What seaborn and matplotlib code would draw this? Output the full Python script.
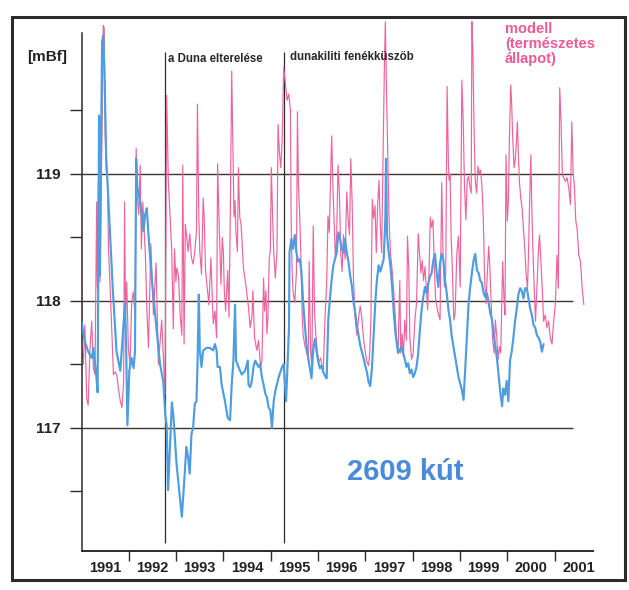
import matplotlib
matplotlib.use("Agg")
import matplotlib.pyplot as plt
import numpy as np
import pandas as pd
import seaborn as sns
from matplotlib.patches import Rectangle

# ---------------- data (decimal year, level in mBf) ----------------
blue_1991_1993 = [
    (1991.00, 117.84), (1991.07, 117.68), (1991.14, 117.60), (1991.22, 117.55), (1991.25, 117.63),
    (1991.31, 117.42), (1991.34, 117.28), (1991.36, 118.57), (1991.37, 119.46), (1991.39, 118.20),
    (1991.41, 119.12), (1991.435, 120.04), (1991.46, 120.09), (1991.49, 119.73), (1991.52, 119.15),
    (1991.58, 118.70), (1991.66, 118.10), (1991.74, 117.60), (1991.82, 117.45), (1991.92, 117.99),
    (1991.945, 117.60), (1991.97, 117.02), (1992.01, 117.45), (1992.06, 117.55), (1992.10, 117.47),
    (1992.13, 117.60), (1992.155, 119.12), (1992.18, 118.90), (1992.24, 118.78), (1992.31, 118.55),
    (1992.345, 118.68), (1992.38, 118.73), (1992.415, 118.52), (1992.49, 118.15), (1992.59, 117.76),
    (1992.66, 117.50), (1992.73, 117.36), (1992.77, 117.10), (1992.80, 117.02), (1992.83, 116.51),
    (1992.87, 116.85), (1992.91, 117.20), (1992.94, 117.10), (1993.01, 116.71), (1993.08, 116.45),
    (1993.12, 116.30),
]
blue_1993_1995 = [
    (1993.167, 116.56), (1993.216, 116.85), (1993.252, 116.77), (1993.287, 116.64), (1993.323, 116.95),
    (1993.358, 117.00), (1993.394, 117.19), (1993.429, 117.21), (1993.45, 117.48), (1993.479, 118.05),
    (1993.50, 117.61), (1993.536, 117.48), (1993.571, 117.61), (1993.642, 117.63), (1993.713, 117.63),
    (1993.784, 117.61), (1993.819, 117.66), (1993.855, 117.61), (1993.876, 117.48), (1993.926, 117.48),
    (1993.961, 117.34), (1994.032, 117.21), (1994.089, 117.08), (1994.139, 117.06), (1994.174, 117.34),
    (1994.21, 117.53), (1994.245, 117.97), (1994.266, 117.53), (1994.316, 117.48), (1994.387, 117.42),
    (1994.458, 117.45), (1994.514, 117.53), (1994.529, 117.34), (1994.564, 117.32), (1994.60, 117.37),
    (1994.635, 117.48), (1994.67, 117.53), (1994.741, 117.48), (1994.777, 117.50), (1994.812, 117.40),
    (1994.848, 117.34), (1994.883, 117.27), (1994.919, 117.24), (1994.954, 117.16), (1994.99, 117.14),
    (1995.025, 117.00), (1995.061, 117.21), (1995.096, 117.29), (1995.167, 117.40), (1995.238, 117.48),
    (1995.273, 117.50), (1995.309, 117.29), (1995.323, 117.21), (1995.366, 117.61), (1995.385, 117.79),
]
blue_1995_1997 = [
    (1995.395, 118.38), (1995.435, 118.49), (1995.471, 118.41), (1995.507, 118.52), (1995.542, 118.38),
    (1995.577, 118.31), (1995.613, 118.33), (1995.648, 118.23), (1995.684, 117.99), (1995.719, 117.81),
    (1995.755, 117.65), (1995.79, 117.55), (1995.825, 117.47), (1995.861, 117.39), (1995.897, 117.62),
    (1995.932, 117.70), (1995.968, 117.60), (1996.003, 117.52), (1996.038, 117.47), (1996.074, 117.49),
    (1996.109, 117.44), (1996.145, 117.41), (1996.18, 117.39), (1996.216, 117.86), (1996.251, 118.02),
    (1996.287, 118.17), (1996.322, 118.28), (1996.358, 118.33), (1996.393, 118.38), (1996.429, 118.54),
    (1996.464, 118.49), (1996.499, 118.41), (1996.535, 118.38), (1996.57, 118.49), (1996.606, 118.38),
    (1996.641, 118.31), (1996.677, 118.20), (1996.712, 118.12), (1996.748, 117.99), (1996.783, 117.91),
    (1996.819, 117.81), (1996.854, 117.73), (1996.89, 117.65), (1996.925, 117.60), (1996.96, 117.55),
    (1996.996, 117.49), (1997.031, 117.44), (1997.067, 117.36), (1997.102, 117.33), (1997.138, 117.47),
    (1997.173, 117.73), (1997.209, 117.99), (1997.244, 118.17), (1997.28, 118.28), (1997.315, 118.23),
    (1997.351, 118.28), (1997.386, 118.33), (1997.421, 118.65), (1997.435, 119.12), (1997.457, 118.52),
    (1997.492, 118.38), (1997.528, 118.28), (1997.563, 118.12), (1997.599, 117.91), (1997.634, 117.75),
]
blue_1997_1999 = [
    (1997.655, 117.69), (1997.69, 117.59), (1997.726, 117.61), (1997.761, 117.64), (1997.797, 117.59),
    (1997.832, 117.54), (1997.867, 117.48), (1997.903, 117.51), (1997.938, 117.43), (1997.974, 117.46),
    (1998.009, 117.40), (1998.045, 117.43), (1998.08, 117.48), (1998.116, 117.59), (1998.151, 117.77),
    (1998.187, 117.93), (1998.222, 118.03), (1998.258, 118.11), (1998.293, 118.06), (1998.328, 118.14),
    (1998.364, 118.19), (1998.399, 118.22), (1998.435, 118.32), (1998.47, 118.37), (1998.506, 118.22),
    (1998.541, 118.11), (1998.577, 118.30), (1998.612, 118.37), (1998.648, 118.32), (1998.683, 118.16),
    (1998.719, 118.06), (1998.754, 117.93), (1998.789, 117.85), (1998.825, 117.72), (1998.86, 117.64),
    (1998.896, 117.56), (1998.931, 117.48), (1998.967, 117.40), (1999.002, 117.35), (1999.038, 117.30),
    (1999.073, 117.22), (1999.109, 117.46), (1999.144, 117.72), (1999.18, 117.98), (1999.215, 118.11),
    (1999.25, 118.22), (1999.286, 118.32), (1999.321, 118.37), (1999.357, 118.24), (1999.392, 118.22),
    (1999.428, 118.16), (1999.463, 118.14), (1999.499, 118.06), (1999.534, 118.03), (1999.57, 118.06),
    (1999.605, 117.98), (1999.641, 117.90), (1999.676, 117.85), (1999.711, 117.74), (1999.747, 117.64),
    (1999.782, 117.54), (1999.818, 117.40), (1999.853, 117.27), (1999.889, 117.17),
]
blue_2000 = [
    (1999.914, 117.31), (1999.95, 117.26), (1999.985, 117.37), (2000.021, 117.21), (2000.056, 117.53),
    (2000.091, 117.60), (2000.127, 117.71), (2000.162, 117.84), (2000.198, 117.94), (2000.233, 118.05),
    (2000.269, 118.10), (2000.304, 118.08), (2000.34, 118.02), (2000.375, 118.10), (2000.411, 118.10),
    (2000.446, 118.02), (2000.482, 117.94), (2000.517, 117.89), (2000.552, 117.81), (2000.588, 117.79),
    (2000.623, 117.73), (2000.659, 117.71), (2000.694, 117.68), (2000.73, 117.60), (2000.765, 117.66),
]

pink_1991_1993 = [
    (1991.00, 118.49), (1991.01, 117.63), (1991.04, 117.50), (1991.07, 117.81), (1991.11, 117.23),
    (1991.14, 117.18), (1991.18, 117.63), (1991.215, 117.84), (1991.25, 117.47), (1991.285, 117.42),
    (1991.32, 118.78), (1991.335, 118.10), (1991.355, 118.94), (1991.39, 118.15), (1991.43, 119.26),
    (1991.46, 120.17), (1991.48, 120.15), (1991.50, 119.33), (1991.52, 119.04), (1991.55, 118.94),
    (1991.57, 118.41), (1991.605, 118.10), (1991.64, 117.76), (1991.675, 117.42), (1991.71, 117.44),
    (1991.745, 117.42), (1991.78, 117.31), (1991.82, 117.21), (1991.855, 117.16), (1991.89, 117.36),
    (1991.91, 118.78), (1991.93, 117.89), (1991.955, 118.15), (1991.99, 117.63), (1992.025, 117.50),
    (1992.06, 117.99), (1992.095, 118.07), (1992.13, 117.89), (1992.155, 119.20), (1992.18, 118.81),
    (1992.21, 118.68), (1992.24, 119.07), (1992.265, 118.41), (1992.295, 118.78), (1992.325, 118.55),
    (1992.35, 118.36), (1992.38, 117.94), (1992.415, 117.63), (1992.465, 118.45), (1992.52, 117.89),
    (1992.575, 118.30), (1992.625, 117.50), (1992.695, 117.85), (1992.765, 117.26), (1992.80, 119.62),
    (1992.835, 118.94), (1992.87, 118.68), (1992.905, 118.41), (1992.94, 117.78), (1992.965, 118.41),
    (1992.995, 118.15), (1993.015, 118.26), (1993.05, 118.20), (1993.085, 117.89), (1993.12, 117.73),
    (1993.14, 119.07),
]
pink_1993_1995 = [
    (1993.167, 117.66), (1993.195, 118.60), (1993.216, 118.53), (1993.252, 118.39), (1993.287, 118.53),
    (1993.323, 118.34), (1993.358, 118.29), (1993.394, 118.39), (1993.429, 118.55), (1993.45, 119.55),
    (1993.479, 118.66), (1993.50, 118.39), (1993.536, 118.21), (1993.571, 118.81), (1993.592, 118.66),
    (1993.621, 118.24), (1993.663, 118.08), (1993.692, 117.97), (1993.734, 118.34), (1993.763, 118.03),
    (1993.784, 117.82), (1993.819, 117.92), (1993.855, 117.71), (1993.876, 119.08), (1993.905, 118.66),
    (1993.947, 118.13), (1993.975, 118.50), (1993.997, 118.39), (1994.018, 118.08), (1994.046, 117.92),
    (1994.089, 118.24), (1994.117, 117.87), (1994.145, 118.71), (1994.174, 119.81), (1994.195, 119.31),
    (1994.223, 118.66), (1994.245, 118.79), (1994.266, 118.53), (1994.295, 118.39), (1994.316, 119.05),
    (1994.344, 118.66), (1994.373, 118.60), (1994.422, 118.26), (1994.472, 118.13), (1994.529, 117.95),
    (1994.564, 117.79), (1994.60, 117.87), (1994.621, 118.08), (1994.656, 117.71), (1994.706, 117.61),
    (1994.741, 117.69), (1994.784, 117.48), (1994.812, 117.53), (1994.848, 118.18), (1994.869, 117.92),
    (1994.897, 118.08), (1994.919, 117.74), (1994.94, 117.87), (1994.968, 118.34), (1994.99, 118.39),
    (1995.011, 119.05), (1995.039, 118.66), (1995.061, 118.39), (1995.096, 118.18), (1995.131, 118.39),
    (1995.153, 119.39), (1995.181, 119.18), (1995.21, 119.05), (1995.238, 119.24), (1995.273, 119.84),
    (1995.309, 119.71), (1995.344, 119.58), (1995.38, 119.63), (1995.415, 119.50),
]
pink_1995_1997 = [
    (1995.43, 118.65), (1995.45, 118.25), (1995.471, 118.07), (1995.507, 117.99), (1995.542, 118.23),
    (1995.563, 119.49), (1995.585, 118.91), (1995.613, 118.65), (1995.634, 118.38), (1995.662, 117.91),
    (1995.684, 117.73), (1995.719, 117.65), (1995.755, 117.60), (1995.79, 117.55), (1995.812, 118.31),
    (1995.84, 117.60), (1995.868, 117.49), (1995.897, 118.59), (1995.925, 117.91), (1995.953, 117.73),
    (1995.982, 117.60), (1996.017, 117.52), (1996.053, 117.55), (1996.081, 117.49), (1996.109, 117.44),
    (1996.145, 117.86), (1996.18, 118.12), (1996.209, 118.67), (1996.237, 118.54), (1996.265, 118.99),
    (1996.287, 119.30), (1996.308, 118.96), (1996.336, 118.65), (1996.365, 118.33), (1996.393, 118.52),
    (1996.421, 119.07), (1996.45, 118.86), (1996.478, 118.38), (1996.507, 118.23), (1996.535, 118.52),
    (1996.57, 118.33), (1996.606, 118.86), (1996.634, 118.65), (1996.663, 118.52), (1996.691, 119.12),
    (1996.719, 118.78), (1996.748, 118.17), (1996.783, 117.86), (1996.819, 117.73), (1996.854, 117.86),
    (1996.89, 117.96), (1996.925, 117.86), (1996.96, 117.70), (1996.996, 117.60), (1997.031, 117.52),
    (1997.067, 117.49), (1997.088, 117.57), (1997.116, 117.86), (1997.145, 118.80), (1997.173, 118.65),
    (1997.202, 118.75), (1997.23, 118.38), (1997.258, 118.75), (1997.287, 118.95), (1997.315, 118.59),
    (1997.343, 118.38), (1997.372, 119.12), (1997.40, 119.83), (1997.421, 120.20), (1997.443, 119.70),
    (1997.471, 119.17), (1997.499, 118.65), (1997.528, 118.38), (1997.563, 118.25), (1997.599, 118.07),
    (1997.634, 117.86),
]
pink_1997_1999 = [
    (1997.655, 117.71), (1997.69, 117.59), (1997.726, 118.16), (1997.747, 117.59), (1997.775, 117.74),
    (1997.804, 117.56), (1997.832, 117.85), (1997.867, 117.69), (1997.889, 118.51), (1997.917, 118.24),
    (1997.938, 117.72), (1997.974, 117.54), (1998.009, 117.59), (1998.045, 117.85), (1998.08, 117.98),
    (1998.116, 118.53), (1998.144, 118.37), (1998.172, 118.22), (1998.20, 118.32), (1998.229, 118.16),
    (1998.258, 118.27), (1998.286, 118.11), (1998.314, 117.93), (1998.343, 118.22), (1998.371, 118.66),
    (1998.399, 118.58), (1998.428, 118.64), (1998.456, 118.27), (1998.484, 118.01), (1998.513, 117.95),
    (1998.541, 117.90), (1998.577, 117.85), (1998.612, 118.93), (1998.64, 118.37), (1998.669, 118.11),
    (1998.697, 118.22), (1998.726, 119.69), (1998.754, 119.08), (1998.768, 118.95), (1998.789, 119.00),
    (1998.811, 118.51), (1998.839, 118.24), (1998.867, 117.85), (1998.896, 117.90), (1998.931, 118.37),
    (1998.967, 118.51), (1999.002, 118.11), (1999.038, 119.74), (1999.066, 119.42), (1999.094, 118.90),
    (1999.123, 118.64), (1999.151, 118.95), (1999.18, 118.98), (1999.208, 118.90), (1999.236, 118.85),
    (1999.25, 120.20), (1999.272, 119.95), (1999.293, 119.42), (1999.321, 118.95), (1999.35, 118.85),
    (1999.378, 119.06), (1999.406, 119.00), (1999.435, 119.03), (1999.463, 118.90), (1999.492, 118.64),
    (1999.52, 118.16), (1999.548, 117.98), (1999.576, 118.22), (1999.605, 118.43), (1999.633, 118.24),
    (1999.662, 117.93), (1999.69, 117.69), (1999.719, 117.59), (1999.747, 117.85), (1999.775, 117.72),
    (1999.804, 117.54), (1999.832, 117.64), (1999.86, 117.59),
]
pink_2000_2001 = [
    (1999.879, 117.92), (1999.90, 118.31), (1999.928, 118.02), (1999.95, 117.89), (1999.971, 119.15),
    (1999.999, 118.63), (2000.021, 118.78), (2000.042, 119.26), (2000.07, 119.70), (2000.091, 119.55),
    (2000.113, 119.28), (2000.141, 119.05), (2000.162, 119.10), (2000.184, 119.21), (2000.212, 119.41),
    (2000.233, 119.15), (2000.255, 118.94), (2000.283, 118.81), (2000.311, 118.73), (2000.34, 118.57),
    (2000.375, 118.36), (2000.396, 118.21), (2000.425, 118.10), (2000.446, 118.36), (2000.467, 118.73),
    (2000.496, 119.15), (2000.517, 118.73), (2000.538, 118.42), (2000.567, 118.10), (2000.595, 117.84),
    (2000.623, 118.10), (2000.659, 118.42), (2000.68, 118.52), (2000.708, 118.31), (2000.737, 118.10),
    (2000.765, 117.84), (2000.801, 117.89), (2000.836, 117.79), (2000.872, 117.84), (2000.907, 117.71),
    (2000.943, 117.66), (2000.978, 117.84), (2001.013, 117.97), (2001.049, 118.36), (2001.077, 118.10),
    (2001.106, 119.68), (2001.134, 119.41), (2001.162, 118.99), (2001.191, 118.97), (2001.226, 118.94),
    (2001.262, 118.97), (2001.297, 118.89), (2001.333, 118.76), (2001.361, 119.41), (2001.389, 119.02),
    (2001.418, 118.89), (2001.446, 118.63), (2001.474, 118.57), (2001.51, 118.36), (2001.545, 118.31),
    (2001.581, 118.10), (2001.616, 117.97),
]

year_labels = ["1991", "1992", "1993", "1994", "1995", "1996",
               "1997", "1998", "1999", "2000", "2001"]
y_major = [117, 118, 119]
y_minor = [116.5, 117.5, 118.5, 119.5]
event_years = [1992.77, 1995.28]
event_labels = ["a Duna elterelése", "dunakiliti fenékküszöb"]
unit_label = "[mBf]"
model_label = "modell\n(természetes\nállapot)"
well_label = "2609 kút"

# ---------------- style ----------------
sns.set_theme(style="white")
plt.rcParams["font.family"] = ["Liberation Sans", "DejaVu Sans"]

BLUE = "#4d9de0"
PINK = "#ee639d"
DARK = "#2e2b29"

blue_df = pd.DataFrame(blue_1991_1993 + blue_1993_1995 + blue_1995_1997
                       + blue_1997_1999 + blue_2000, columns=["year", "level"])
pink_df = pd.DataFrame(pink_1991_1993 + pink_1993_1995 + pink_1995_1997
                       + pink_1997_1999 + pink_2000_2001, columns=["year", "level"])

fig = plt.figure(figsize=(6.29, 5.90), dpi=100)
ax = fig.add_axes([0.1296, 0.0661, 0.8132, 0.9136])
ax.set_facecolor("white")

# gridlines at whole metres, event lines
ax.hlines(y_major, 1991.0, 2001.38, color="#3b3631", lw=1.0, zorder=1)
ax.vlines(event_years, 116.09, 119.96, color=DARK, lw=0.9, zorder=1)

sns.lineplot(data=pink_df, x="year", y="level", ax=ax, color=PINK, lw=0.85,
             estimator=None, sort=False, zorder=2)
sns.lineplot(data=blue_df, x="year", y="level", ax=ax, color=BLUE, lw=1.55,
             estimator=None, sort=False, zorder=3)

ax.set_xlim(1991.0, 2001.81)
ax.set_ylim(116.03, 120.276)
ax.set_xlabel("")
ax.set_ylabel("")

for s in ["top", "right"]:
    ax.spines[s].set_visible(False)
ax.spines["left"].set_bounds(116.03, 120.11)
ax.spines["left"].set_color(DARK)
ax.spines["left"].set_linewidth(1.1)
ax.spines["bottom"].set_color(DARK)
ax.spines["bottom"].set_linewidth(1.4)

# x: year boundaries as ticks, labels centred in each year
ax.set_xticks(list(range(1992, 2002)))
ax.set_xticklabels([])
ax.set_xticks([int(y) + 0.5 for y in year_labels], minor=True)
ax.set_xticklabels(year_labels, minor=True)
ax.tick_params(axis="x", which="major", bottom=True, length=7, width=1.0,
               color=DARK, direction="out")
ax.tick_params(axis="x", which="minor", bottom=True, length=0, pad=7,
               labelsize=10.5, labelcolor="#222222")
for lab in ax.get_xticklabels(minor=True):
    lab.set_fontweight("bold")

ax.set_yticks(y_major)
ax.set_yticklabels([str(v) for v in y_major])
ax.set_yticks(y_minor, minor=True)
ax.tick_params(axis="y", which="both", left=True, length=9, width=1.0,
               color=DARK, direction="out", pad=6, labelsize=11,
               labelcolor="#222222")
for lab in ax.get_yticklabels():
    lab.set_fontweight("bold")
ax.grid(False)

# texts
fig.text(47 / 629, 1 - 57 / 590, unit_label, ha="center", va="center",
         fontsize=11, fontweight="bold", color="#222222")
ax.text(1992.82, 119.905, event_labels[0], ha="left", va="center",
        fontsize=8.3, fontweight="bold", color="#2a2a2a")
ax.text(1995.41, 119.92, event_labels[1], ha="left", va="center",
        fontsize=8.3, fontweight="bold", color="#2a2a2a")
ax.text(1999.95, 120.20, model_label, ha="left", va="top", fontsize=10.5,
        fontweight="bold", color="#ec5b97", linespacing=1.12, clip_on=False)
ax.text(1997.84, 116.65, well_label, ha="center", va="center", fontsize=21,
        fontweight="bold", color="#4a8bd9")

# outer frame of the figure
fig.add_artist(Rectangle((12 / 629, 10 / 590), 613 / 629, 563 / 590,
                         transform=fig.transFigure, fill=False, lw=2.2,
                         ec="#2b2b2b"))

fig.savefig("out.png", dpi=100, facecolor="white")
